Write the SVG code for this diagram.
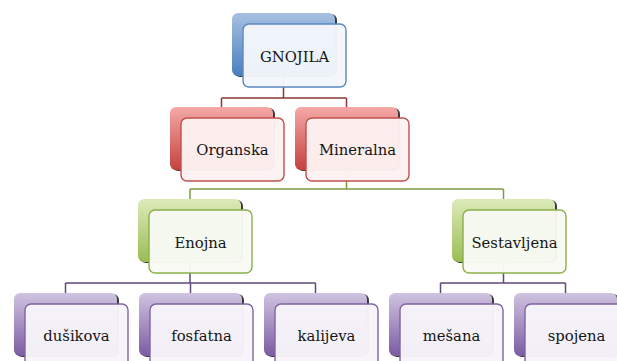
<svg xmlns="http://www.w3.org/2000/svg" width="617" height="361" viewBox="0 0 617 361">
<defs>
<linearGradient id="gBlue" x1="0" y1="0" x2="0" y2="1"><stop offset="0" stop-color="#A7C0E0"/><stop offset="1" stop-color="#4A7EBF"/></linearGradient>
<linearGradient id="gRed" x1="0" y1="0" x2="0" y2="1"><stop offset="0" stop-color="#F5A9A7"/><stop offset="1" stop-color="#C4423F"/></linearGradient>
<linearGradient id="gGreen" x1="0" y1="0" x2="0" y2="1"><stop offset="0" stop-color="#DCEAB8"/><stop offset="1" stop-color="#9ABD55"/></linearGradient>
<linearGradient id="gPurple" x1="0" y1="0" x2="0" y2="1"><stop offset="0" stop-color="#D0C3E0"/><stop offset="1" stop-color="#7A5CA3"/></linearGradient>
<style>
.sh{fill:#3a3a3a}
.front{stroke-width:1.4;fill-opacity:0.97}
.fb{fill:#F3F6FB;stroke:#5B88C4}
.fr{fill:#FDF2F2;stroke:#C0504D}
.fg{fill:#F8FAF3;stroke:#8DB04A}
.fp{fill:#F7F4FA;stroke:#8064A2}
.t{font-family:"DejaVu Serif","Liberation Serif",serif;font-size:14.8px;fill:#151515;text-anchor:middle;dominant-baseline:central}
.c{fill:none;stroke-width:1.5}
.cr{stroke:#8C3A38}
.cg{stroke:#7E9B43}
.cp{stroke:#5F497A}
</style>
</defs>
<g id="connectors">
<path class="c cr" d="M283.5 76V98M221.5 98H346.5M221.5 98V107M346.5 98V107"/>
<path class="c cg" d="M346.5 170V189M190 189H503.5M190 189V199M503.5 189V199"/>
<path class="c cp" d="M190 262V283M65.5 283H315.5M65.5 283V293M190.5 283V293M315.5 283V293"/>
<path class="c cp" d="M503.5 262V283M440.5 283H565.5M440.5 283V293M565.5 283V293"/>
</g>
<g id="gnojila">
<rect class="sh" x="234" y="14" width="103" height="63" rx="6"/>
<rect x="232" y="13" width="103" height="63" rx="6" fill="url(#gBlue)"/>
<rect class="front fb" x="243" y="24" width="103" height="63" rx="6"/>
<text class="t" x="294.5" y="56">GNOJILA</text>
</g>
<g id="organska">
<rect class="sh" x="172" y="108" width="103" height="63" rx="6"/>
<rect x="170" y="107" width="103" height="63" rx="6" fill="url(#gRed)"/>
<rect class="front fr" x="181" y="118" width="103" height="63" rx="6"/>
<text class="t" x="232.5" y="149.5">Organska</text>
</g>
<g id="mineralna">
<rect class="sh" x="297" y="108" width="103" height="63" rx="6"/>
<rect x="295" y="107" width="103" height="63" rx="6" fill="url(#gRed)"/>
<rect class="front fr" x="306" y="118" width="103" height="63" rx="6"/>
<text class="t" x="357.5" y="149.5">Mineralna</text>
</g>
<g id="enojna">
<rect class="sh" x="140" y="200" width="103" height="63" rx="6"/>
<rect x="138" y="199" width="103" height="63" rx="6" fill="url(#gGreen)"/>
<rect class="front fg" x="149" y="210" width="103" height="63" rx="6"/>
<text class="t" x="200.5" y="242">Enojna</text>
</g>
<g id="sestavljena">
<rect class="sh" x="454" y="200" width="103" height="63" rx="6"/>
<rect x="452" y="199" width="103" height="63" rx="6" fill="url(#gGreen)"/>
<rect class="front fg" x="463" y="210" width="103" height="63" rx="6"/>
<text class="t" x="514.5" y="242">Sestavljena</text>
</g>
<g id="dusikova">
<rect class="sh" x="16" y="294" width="103" height="63" rx="6"/>
<rect x="14" y="293" width="103" height="63" rx="6" fill="url(#gPurple)"/>
<rect class="front fp" x="25" y="304" width="103" height="63" rx="6"/>
<text class="t" x="76.5" y="335">dušikova</text>
</g>
<g id="fosfatna">
<rect class="sh" x="141" y="294" width="103" height="63" rx="6"/>
<rect x="139" y="293" width="103" height="63" rx="6" fill="url(#gPurple)"/>
<rect class="front fp" x="150" y="304" width="103" height="63" rx="6"/>
<text class="t" x="201.5" y="335">fosfatna</text>
</g>
<g id="kalijeva">
<rect class="sh" x="266" y="294" width="103" height="63" rx="6"/>
<rect x="264" y="293" width="103" height="63" rx="6" fill="url(#gPurple)"/>
<rect class="front fp" x="275" y="304" width="103" height="63" rx="6"/>
<text class="t" x="326.5" y="335">kalijeva</text>
</g>
<g id="mesana">
<rect class="sh" x="391" y="294" width="103" height="63" rx="6"/>
<rect x="389" y="293" width="103" height="63" rx="6" fill="url(#gPurple)"/>
<rect class="front fp" x="400" y="304" width="103" height="63" rx="6"/>
<text class="t" x="451.5" y="335">mešana</text>
</g>
<g id="spojena">
<rect class="sh" x="516" y="294" width="103" height="63" rx="6"/>
<rect x="514" y="293" width="103" height="63" rx="6" fill="url(#gPurple)"/>
<rect class="front fp" x="525" y="304" width="103" height="63" rx="6"/>
<text class="t" x="576.5" y="335">spojena</text>
</g>
</svg>
